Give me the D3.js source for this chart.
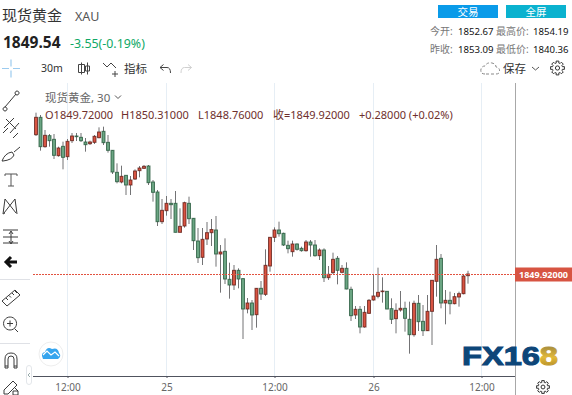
<!DOCTYPE html>
<html>
<head>
<meta charset="utf-8" />
<title>现货黄金 XAU</title>
<script src="https://cdn.jsdelivr.net/npm/d3@7"></script>
<style>
  html, body { margin: 0; padding: 0; background: #fff; overflow: hidden; }
  svg { display: block; font-family: "Noto Sans", "Noto Sans CJK SC", sans-serif; }
</style>
</head>
<body>
<svg></svg>
<script>
const opens = [
  1866.64, 1868.72, 1865.20, 1866.52, 1866.08, 1864.12, 1865.24, 1864.00, 1865.92, 1866.48,
  1866.32, 1865.76, 1865.56, 1865.72, 1866.28, 1867.04, 1865.72, 1864.76, 1862.12, 1860.96,
  1861.76, 1860.60, 1861.32, 1862.32, 1862.60, 1862.88, 1860.96, 1859.76, 1856.20, 1857.52,
  1858.40, 1858.40, 1854.92, 1855.68, 1858.40, 1856.60, 1853.88, 1851.92, 1854.12, 1854.88,
  1855.20, 1852.32, 1852.64, 1849.28, 1848.60, 1850.36, 1849.36, 1845.72, 1846.44, 1845.04,
  1848.20, 1847.48, 1850.88, 1854.32, 1855.20, 1854.80, 1853.36, 1852.60, 1853.52, 1853.00,
  1852.72, 1853.76, 1853.40, 1852.12, 1852.80, 1849.48, 1850.08, 1851.80, 1850.12, 1850.60,
  1848.08, 1845.00, 1845.68, 1843.56, 1845.20, 1846.80, 1847.24, 1847.80, 1847.84, 1845.76,
  1844.56, 1845.60, 1845.80, 1844.48, 1842.64, 1846.40, 1844.24, 1843.12, 1845.44, 1849.04,
  1851.80, 1846.44, 1846.76, 1846.36, 1847.16, 1847.56, 1849.72,
];
const highs = [
  1869.28, 1869.00, 1867.20, 1866.72, 1866.72, 1865.20, 1865.80, 1866.12, 1866.84, 1866.84,
  1866.84, 1866.24, 1865.92, 1866.60, 1867.52, 1867.60, 1866.60, 1864.80, 1863.20, 1862.92,
  1861.80, 1861.68, 1862.48, 1862.88, 1863.00, 1863.00, 1861.20, 1860.00, 1858.92, 1859.28,
  1858.92, 1859.88, 1857.80, 1858.60, 1859.20, 1856.64, 1855.44, 1855.44, 1856.16, 1856.52,
  1856.88, 1853.40, 1854.20, 1851.28, 1851.00, 1850.60, 1849.44, 1847.04, 1846.80, 1848.24,
  1849.08, 1852.88, 1854.36, 1855.52, 1856.20, 1854.88, 1853.92, 1853.92, 1853.60, 1853.20,
  1854.00, 1854.00, 1854.00, 1853.00, 1853.00, 1850.88, 1852.48, 1852.08, 1851.00, 1851.32,
  1848.40, 1846.08, 1846.08, 1846.08, 1846.92, 1849.88, 1850.68, 1849.52, 1847.88, 1847.00,
  1846.40, 1847.88, 1846.60, 1846.60, 1846.72, 1847.40, 1846.20, 1847.40, 1849.20, 1853.40,
  1852.32, 1848.00, 1847.80, 1847.64, 1847.80, 1849.80, 1850.31,
];
const lows = [
  1866.48, 1864.72, 1865.08, 1865.20, 1863.72, 1864.00, 1862.48, 1863.60, 1865.64, 1865.88,
  1865.76, 1864.60, 1865.40, 1865.52, 1866.20, 1865.40, 1864.48, 1861.92, 1860.80, 1860.80,
  1859.40, 1859.40, 1861.20, 1861.52, 1862.52, 1860.60, 1858.60, 1855.68, 1855.92, 1856.92,
  1856.52, 1854.92, 1854.92, 1855.48, 1855.92, 1852.80, 1851.24, 1851.00, 1853.40, 1853.28,
  1850.80, 1847.68, 1848.72, 1846.96, 1848.00, 1848.20, 1842.12, 1845.20, 1843.20, 1843.48,
  1846.80, 1847.28, 1850.20, 1853.76, 1854.40, 1853.28, 1852.40, 1852.00, 1852.72, 1852.60,
  1852.60, 1852.00, 1852.00, 1851.60, 1848.96, 1849.20, 1849.92, 1848.68, 1850.00, 1848.08,
  1844.28, 1844.52, 1842.80, 1843.48, 1845.12, 1846.72, 1847.00, 1846.48, 1845.68, 1843.92,
  1842.80, 1845.40, 1843.00, 1840.36, 1842.40, 1843.08, 1842.48, 1843.08, 1841.40, 1847.20,
  1845.80, 1843.88, 1845.08, 1846.28, 1846.00, 1847.48, 1848.76,
];
const closes = [
  1868.72, 1865.20, 1866.56, 1865.92, 1864.16, 1865.04, 1863.92, 1865.84, 1866.48, 1866.40,
  1865.92, 1865.44, 1865.76, 1866.44, 1866.96, 1865.68, 1864.76, 1862.16, 1861.00, 1861.64,
  1860.60, 1861.20, 1862.28, 1862.64, 1862.84, 1860.88, 1859.72, 1856.20, 1857.56, 1858.40,
  1858.24, 1854.92, 1855.64, 1858.48, 1856.56, 1853.92, 1851.88, 1854.08, 1854.88, 1855.26,
  1852.32, 1852.56, 1849.32, 1848.60, 1850.36, 1849.32, 1845.72, 1846.44, 1845.00, 1848.20,
  1847.52, 1850.96, 1854.32, 1855.20, 1854.76, 1853.40, 1852.96, 1853.52, 1852.88, 1852.72,
  1853.76, 1853.40, 1852.12, 1852.80, 1849.48, 1849.88, 1851.68, 1850.36, 1850.60, 1848.12,
  1844.92, 1845.68, 1843.56, 1845.32, 1846.76, 1847.28, 1847.72, 1847.88, 1845.72, 1844.48,
  1845.56, 1845.80, 1844.60, 1842.64, 1846.40, 1844.20, 1843.12, 1845.44, 1849.16, 1851.68,
  1846.44, 1846.76, 1846.36, 1847.20, 1847.56, 1849.68, 1849.92,
];

const tickBars = [7, 29, 53, 75, 99];
const tickLabels = ["12:00", "25", "12:00", "26", "12:00"];
const lastPrice = 1849.92;

const leftStats = ["今开:", "昨收:"];
const leftValues = ["1852.67", "1853.09"];
const rightStats = ["最高价:", "最低价:"];
const rightValues = ["1854.19", "1840.36"];

const w = 572;
const h = 395;
const plot = { left: 33, right: 515, top: 83, bottom: 376 };
const barW = 3;

const upFill = "#d75442";
const upBorder = "#5b1a13";
const downFill = "#6ba583";
const downBorder = "#225437";
const wickColor = "#737375";
const iconColor = "#3b3b3b";

const svg = d3.select("svg").attr("width", w).attr("height", h);

const xScale = d3.scaleLinear().domain([0, 96]).range([36, 468]);
const yScale = d3
  .scaleLinear()
  .domain([1837.68, 1872.84])
  .range([plot.bottom, plot.top]);

const addText = (parent, str, x, y, size, color, weight, anchor) =>
  parent
    .append("text")
    .text(str)
    .attr("x", x)
    .attr("y", y)
    .attr("font-size", size)
    .attr("fill", color)
    .attr("font-weight", weight || 400)
    .attr("text-anchor", anchor || "start")
    .attr("dominant-baseline", "central");

const addIcon = (d, tx, ty, color, width) =>
  svg
    .append("path")
    .attr("d", d)
    .attr("transform", `translate(${tx},${ty})`)
    .attr("fill", "none")
    .attr("stroke", color || iconColor)
    .attr("stroke-width", width || 1);

const drawHeader = () => {
  addText(svg, "现货黄金", 2, 15, 15, "#333");
  addText(svg, "XAU", 75, 16, 12.5, "#555");
  addText(svg, "1849.54", 3, 42, 15.5, "#222", 700);
  addText(svg, "-3.55(-0.19%)", 70, 43, 12.4, "#10a866");

  svg.append("rect").attr("x", 438).attr("y", 5).attr("width", 60).attr("height", 13).attr("fill", "#0a9be9");
  svg.append("rect").attr("x", 506).attr("y", 5).attr("width", 60).attr("height", 13).attr("fill", "#0ab2cf");
  addText(svg, "交易", 468, 11.5, 10.5, "#fff", 400, "middle");
  addText(svg, "全屏", 536, 11.5, 10.5, "#fff", 400, "middle");

  [31, 49].forEach((y, i) => {
    addText(svg, leftStats[i], 430, y, 10, "#777");
    addText(svg, leftValues[i], 458, y, 9.6, "#111");
    addText(svg, rightStats[i], 496, y, 10, "#777");
    addText(svg, rightValues[i], 533, y, 9.6, "#111");
  });
};

const drawToolbar = () => {
  addIcon("M0 0H7M11 0H18M9 -9V-2M9 2V9", 2, 68.5, "#9ccbef", 1.2);
  addText(svg, "30m", 41, 68, 10.5, "#333");
  addIcon("M3.5 -6V6M0.5 -4H6.5V4H0.5ZM9.5 -6V6M7.5 -2.5H11.5V2.5H7.5Z", 78, 68.5, "#444");
  addIcon("M0 -4L4 0L8 -4L13 1M12 4V10M9 7H15", 103, 67, "#444");
  addText(svg, "指标", 124, 68, 11.5, "#333");
  addIcon("M0 -2.5L3.5 -5.5M0 -2.5L3.5 0.5M0 -2.5H7Q10.5 -2.5 10.5 3", 160, 70, "#444");
  addIcon("M10.5 -2.5L7 -5.5M10.5 -2.5L7 0.5M10.5 -2.5H3.5Q0 -2.5 0 3", 181, 70, "#d0d0d0");
  addIcon("M4 7Q-1 7 0 2Q1 -1 4 -1Q6 -5 11 -4Q15 -3 15 0Q20 1 18 6Q17 7 15 7Z", 481, 67, "#888").attr("stroke-dasharray", "3 2");
  addText(svg, "保存", 503, 68, 11.5, "#333");
  addIcon("M0 0L3.5 3L7 0", 532, 67, "#555");
  drawGear(557.5, 68, 7);
  drawGear(543, 387, 6.5);
};

const drawGear = (cx, cy, r) => {
  const angles = d3.range(0, 8).map((i) => (i * Math.PI) / 4);
  const teeth = angles
    .map((a) => {
      const p = (rad, off) => `${(rad * Math.cos(a + off)).toFixed(1)} ${(rad * Math.sin(a + off)).toFixed(1)}`;
      return `M${p(r * 0.72, -0.26)}L${p(r, -0.2)}L${p(r, 0.2)}L${p(r * 0.72, 0.26)}A${r * 0.72} ${r * 0.72} 0 0 1 ${p(r * 0.72, Math.PI / 4 - 0.26)}`;
    })
    .join("");
  addIcon(teeth, cx, cy, "#333");
  svg.append("circle").attr("cx", cx).attr("cy", cy).attr("r", r * 0.3).attr("fill", "none").attr("stroke", "#333");
};

const drawSideTools = () => {
  svg.append("path").attr("d", "M0 279.5H30M0 343.5H30").attr("stroke", "#dfe1e6");
  addIcon("M2 8L13 -5M2 8a2 2 0 1 0 .1 0M14 -8a2 2 0 1 0 .1 0", 3, 99);
  addIcon("M0 6L10 -4M6 11L15 1M-1 11L4 6M9 16L14 11M2 -3L12 7", 4, 122);
  addIcon("M0 7Q3 -1 10 -2L12 1Q10 6 1 7ZM12 -2L18 -7", 2, 154);
  addIcon("M0 0H12M6 0V12M3 12H9M0 0V2M12 0V2", 5, 174, "#555");
  addIcon("M5 -7L3 8M5 -7L16 7M15 -7L4 7M15 -7L17 8M3 8L5 7", 0, 206);
  addIcon("M2 -5H17M2 2H17M2 8H17M10 -3V8M8 -1L10 -4L12 -1M8 6L10 9L12 6", 1, 235);
  addIcon("M3 0H14M8 -5L3 0L8 5", 3, 262, "#111", 3);
  addIcon("M0 8L13 -3L18 2L5 13ZM4 5L6 7M7 2.5L9 4.5M10 0L12 2M13 -2L15 0", 2, 293);
  addIcon("M9 -7a6.5 6.5 0 1 0 .1 0M6 -0.5H12M9 -3.5V2.5M13.5 4.5L17 8", 1, 324);
  addIcon("M4 7V-2Q4 -8 10 -8Q16 -8 16 -2V7H13V-2Q13 -5 10 -5Q7 -5 7 -2V7ZM4 5H7M13 5H16", 1, 361);
  addIcon("M3 11L3 7L12 -2L16 2L7 11ZM13 4L17 8V12H12V8H17", 1, 383);
  svg.append("rect").attr("x", 26.5).attr("y", 365.5).attr("width", 5).attr("height", 19).attr("rx", 2.5).attr("fill", "#fff").attr("stroke", "#e3e6ea");
  addIcon("M1 -2L-1 0L1 2", 29, 375, "#9aa");
};

const drawGrid = () => {
  svg
    .append("g")
    .selectAll("line")
    .data(tickBars)
    .enter()
    .append("line")
    .attr("x1", (d) => xScale(d))
    .attr("x2", (d) => xScale(d))
    .attr("y1", plot.top)
    .attr("y2", plot.bottom)
    .attr("stroke", "#e6eef5");
};

const drawAxis = () => {
  const xAxis = d3
    .axisBottom(xScale)
    .tickValues(tickBars)
    .tickSizeOuter(0)
    .tickSize(2)
    .tickFormat((d, i) => tickLabels[i]);

  const axis = svg
    .append("g")
    .attr("id", "x-axis")
    .attr("transform", `translate(0, ${plot.bottom})`)
    .call(xAxis);

  axis.select(".domain").remove();
  axis
    .append("line")
    .attr("x1", plot.left)
    .attr("x2", plot.right)
    .attr("y1", 0.5)
    .attr("y2", 0.5)
    .attr("stroke", "#50535e");
  axis.selectAll(".tick line").attr("stroke", "#50535e");
  axis
    .selectAll(".tick text")
    .attr("fill", "#666")
    .attr("font-size", 10)
    .attr("font-family", '"Noto Sans", sans-serif')
    .attr("y", 8);

  svg
    .append("line")
    .attr("x1", plot.right + 0.5)
    .attr("x2", plot.right + 0.5)
    .attr("y1", plot.top)
    .attr("y2", h)
    .attr("stroke", "#a8a8a8")
    .attr("stroke-width", 1);
};

const drawCandles = () => {
  const idx = d3.range(opens.length);
  const isUp = (i) => closes[i] >= opens[i];
  const g = svg.append("g").attr("id", "candles");

  g.selectAll("line")
    .data(idx)
    .enter()
    .append("line")
    .attr("x1", (i) => xScale(i))
    .attr("x2", (i) => xScale(i))
    .attr("y1", (i) => yScale(highs[i]))
    .attr("y2", (i) => yScale(lows[i]))
    .attr("stroke", wickColor);

  g.selectAll("rect")
    .data(idx)
    .enter()
    .append("rect")
    .attr("x", (i) => xScale(i) - barW / 2)
    .attr("width", barW)
    .attr("y", (i) => yScale(Math.max(opens[i], closes[i])))
    .attr("height", (i) => Math.abs(yScale(opens[i]) - yScale(closes[i])))
    .attr("fill", (i) => (isUp(i) ? upFill : downFill))
    .attr("stroke", (i) => (isUp(i) ? upBorder : downBorder))
    .attr("stroke-opacity", 0.75);
};

const drawPriceLine = () => {
  const y = Math.round(yScale(lastPrice)) + 0.5;
  svg
    .append("line")
    .attr("x1", plot.left)
    .attr("x2", plot.right)
    .attr("y1", y)
    .attr("y2", y)
    .attr("stroke", "#e2523f")
    .attr("stroke-dasharray", "2 1");
  svg
    .append("rect")
    .attr("x", plot.right)
    .attr("y", y - 7)
    .attr("width", 57)
    .attr("height", 14)
    .attr("fill", upFill);
  addText(svg, d3.format(".5f")(lastPrice), 543.5, y, 9, "#fff", 700, "middle");
};

const drawLegend = () => {
  const legendColor = "#6e2f2c";
  addText(svg, "现货黄金, 30", 45, 97, 11.5, "#666");
  addIcon("M0 0L3 3L6 0", 115, 95.5, "#555");
  addText(svg, "O1849.72000", 45, 114, 11, legendColor);
  addText(svg, "H1850.31000", 121, 114, 11, legendColor);
  addText(svg, "L1848.76000", 198, 114, 11, legendColor);
  addText(svg, "收=1849.92000", 273, 114, 11, legendColor);
  addText(svg, "+0.28000 (+0.02%)", 359, 114, 11, legendColor);
};

const drawBadge = () => {
  svg.append("circle").attr("cx", 51).attr("cy", 354).attr("r", 12).attr("fill", "#fff").attr("stroke", "#eeeeee");
  svg
    .append("path")
    .attr("d", "M43 359Q40 353 45 352Q47 346 52 349Q58 347 59 353Q62 356 58 359Z")
    .attr("fill", "#36a5ee");
  addIcon("M43 355L47 351L51 355L55 352L59 356", 0, 0, "#fff", 1.2);
};

const drawLogo = () => {
  const grad = svg
    .append("defs")
    .append("linearGradient")
    .attr("id", "gold")
    .attr("x1", 0)
    .attr("y1", 0)
    .attr("x2", 0)
    .attr("y2", 1);
  grad.append("stop").attr("offset", "0%").attr("stop-color", "#8f7a3c");
  grad.append("stop").attr("offset", "55%").attr("stop-color", "#e2b93b");
  grad.append("stop").attr("offset", "100%").attr("stop-color", "#a67f1e");

  const logo = svg
    .append("text")
    .attr("x", 462)
    .attr("y", 365)
    .attr("font-family", '"Liberation Sans", sans-serif')
    .attr("font-weight", 700)
    .attr("font-size", 25)
    .attr("textLength", 96)
    .attr("lengthAdjust", "spacingAndGlyphs")
    .attr("fill", "#0d4679")
    .attr("stroke", "#0d4679")
    .attr("stroke-width", 1);
  logo.append("tspan").text("FX16");
  logo.append("tspan").text("8").attr("fill", "url(#gold)").attr("stroke", "url(#gold)");
};

drawGrid();
drawHeader();
drawToolbar();
drawSideTools();
drawAxis();
drawCandles();
drawPriceLine();
drawLegend();
drawBadge();
drawLogo();
</script>
</body>
</html>
